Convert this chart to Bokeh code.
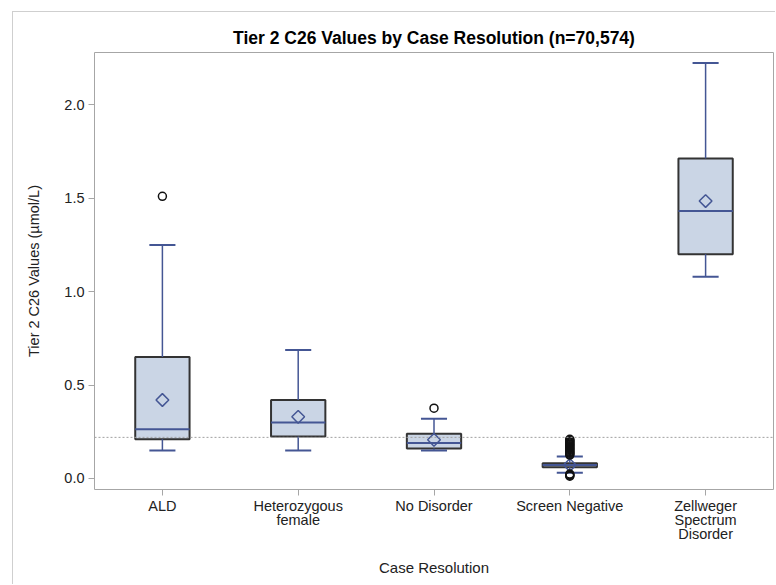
from bokeh.plotting import figure
from bokeh.models import FactorRange, ColumnDataSource, Span, FixedTicker, NumeralTickFormatter
from bokeh.transform import dodge
from bokeh.embed import file_html
from bokeh.resources import INLINE

# ---- data ----
categories = ["ALD", "Heterozygous\nfemale", "No Disorder", "Screen Negative",
              "Zellweger\nSpectrum\nDisorder"]
q1 = [0.21, 0.225, 0.16, 0.060, 1.20]
median = [0.264, 0.30, 0.19, 0.072, 1.431]
q3 = [0.65, 0.42, 0.24, 0.082, 1.712]
mean = [0.42, 0.33, 0.207, 0.072, 1.485]
whisker_low = [0.15, 0.15, 0.15, 0.03, 1.08]
whisker_high = [1.25, 0.687, 0.32, 0.118, 2.224]

outlier_cat = ["ALD", "No Disorder"] + ["Screen Negative"] * 22
outlier_val = [1.51, 0.376,
               0.125, 0.13, 0.135, 0.14, 0.145, 0.15, 0.155, 0.16, 0.165, 0.17,
               0.175, 0.18, 0.185, 0.19, 0.195, 0.20, 0.205, 0.21,
               0.012, 0.016, 0.020, 0.024]
reference_value = 0.22
y_ticks = [0.0, 0.5, 1.0, 1.5, 2.0]

FONT = "Liberation Sans"
BOX_FILL = "#cad5e5"
BLUE = "#445694"

src = ColumnDataSource(dict(cat=categories, q1=q1, med=median, q3=q3, mean=mean,
                            lo=whisker_low, hi=whisker_high))
osrc = ColumnDataSource(dict(cat=outlier_cat, val=outlier_val))

p = figure(x_range=FactorRange(factors=categories), y_range=(-0.059, 2.28),
           width=763, height=573, output_backend="svg", toolbar_location=None,
           title="Tier 2 C26 Values by Case Resolution (n=70,574)",
           min_border_left=81, min_border_right=3, min_border_top=40,
           min_border_bottom=96, margin=(11, 0, 0, 12))
p.styles = {"border-left": "1px solid #cfcfcf", "border-top": "1px solid #cfcfcf"}

p.title.align = "center"
p.title.text_font = FONT
p.title.text_font_size = "17.5px"
p.title.text_font_style = "bold"
p.title.text_color = "#000000"
p.title.standoff = 10

p.xgrid.visible = False
p.ygrid.visible = False
p.outline_line_color = "#a6a6a6"
p.outline_line_width = 1

for ax in (p.xaxis[0], p.yaxis[0]):
    ax.axis_line_color = None
    ax.major_tick_line_color = "#a6a6a6"
    ax.major_tick_out = 6
    ax.major_tick_in = 0
    ax.minor_tick_line_color = None
    ax.major_label_text_font = FONT
    ax.major_label_text_font_size = "14.5px"
    ax.major_label_text_color = "#222222"
    ax.axis_label_text_font = FONT
    ax.axis_label_text_font_style = "normal"
    ax.axis_label_text_color = "#222222"

p.yaxis.ticker = FixedTicker(ticks=y_ticks)
p.yaxis.formatter = NumeralTickFormatter(format="0.0")
p.yaxis.axis_label = "Tier 2 C26 Values (µmol/L)"
p.yaxis.axis_label_text_font_size = "14.5px"
p.yaxis.axis_label_standoff = 19
p.yaxis.major_label_standoff = 4
p.xaxis.axis_label = "Case Resolution"
p.xaxis.axis_label_text_font_size = "15px"
p.xaxis.axis_label_standoff = 14
p.xaxis.major_label_text_line_height = 0.9
p.xaxis.major_label_standoff = 2

# boxes
p.vbar(x="cat", width=0.4, bottom="q1", top="q3", source=src,
       fill_color=BOX_FILL, line_color="#333333", line_width=2)
# medians
p.segment(x0=dodge("cat", -0.2, range=p.x_range), x1=dodge("cat", 0.2, range=p.x_range),
          y0="med", y1="med", source=src, line_color=BLUE, line_width=2)
# whiskers
p.segment(x0="cat", x1="cat", y0="q3", y1="hi", source=src, line_color=BLUE, line_width=1.5)
p.segment(x0="cat", x1="cat", y0="q1", y1="lo", source=src, line_color=BLUE, line_width=1.5)
p.segment(x0=dodge("cat", -0.096, range=p.x_range), x1=dodge("cat", 0.096, range=p.x_range),
          y0="hi", y1="hi", source=src, line_color=BLUE, line_width=2)
p.segment(x0=dodge("cat", -0.096, range=p.x_range), x1=dodge("cat", 0.096, range=p.x_range),
          y0="lo", y1="lo", source=src, line_color=BLUE, line_width=2)
# means
p.scatter(x="cat", y="mean", source=src, marker="square", angle=0.785398, size=9,
          fill_color=None, line_color=BLUE, line_width=1.5)
# outliers
p.scatter(x="cat", y="val", source=osrc, marker="circle", size=8,
          fill_color=None, line_color="#111111", line_width=1.5)

p.add_layout(Span(location=reference_value, dimension="width", line_color="#a0a0a0",
                  line_dash="2 2", line_width=1))

open("out.html", "w").write(file_html(p, INLINE))
